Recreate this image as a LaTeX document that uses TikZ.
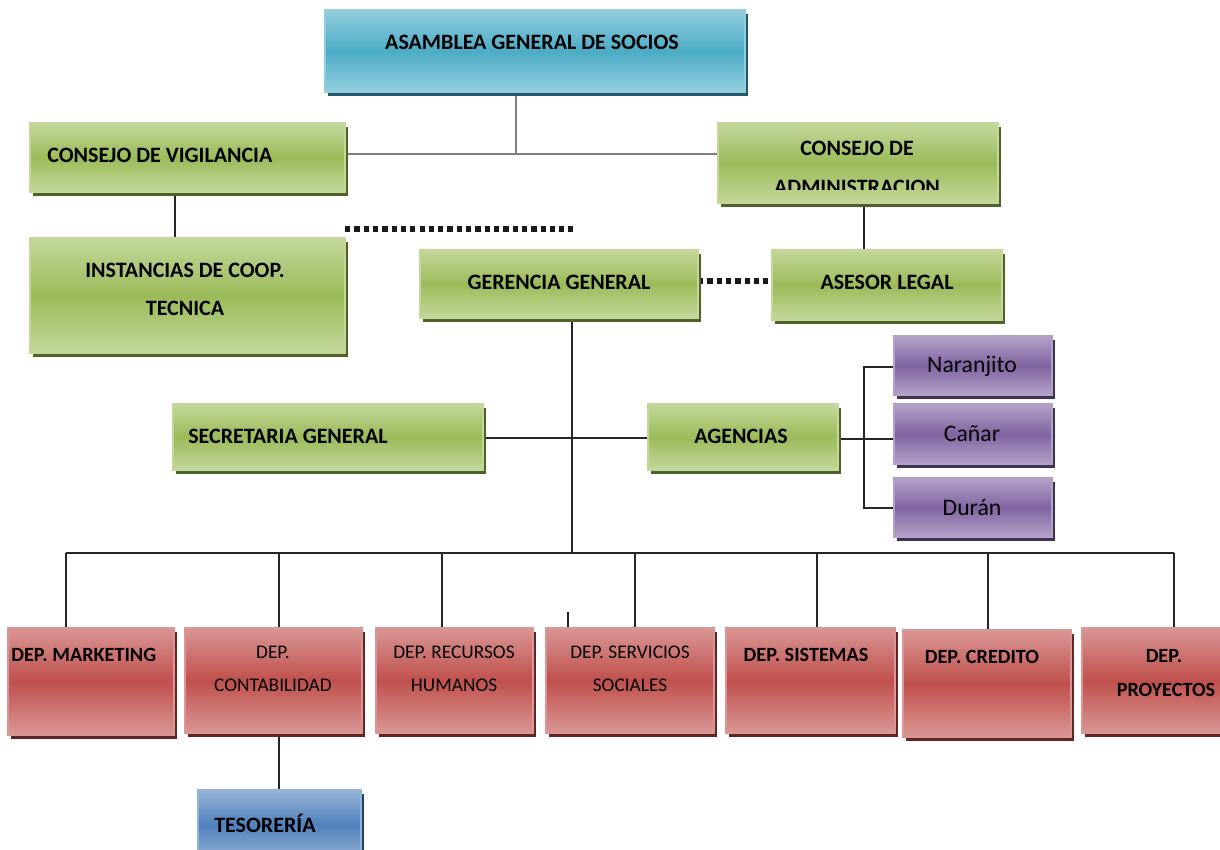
\documentclass[tikz,border=0pt]{standalone}
\usepackage{fontspec}
\setmainfont{Carlito}
\definecolor{gtop}{HTML}{C4D79B}\definecolor{gmid}{HTML}{9BBB59}\definecolor{gsh}{HTML}{4F6228}
\definecolor{btop}{HTML}{93CDDD}\definecolor{bmid}{HTML}{4BACC6}\definecolor{bsh}{HTML}{215968}
\definecolor{rtop}{HTML}{D99694}\definecolor{rmid}{HTML}{C0504D}\definecolor{rsh}{HTML}{632523}
\definecolor{ptop}{HTML}{B3A2C7}\definecolor{pmid}{HTML}{8064A2}\definecolor{psh}{HTML}{3F3151}
\definecolor{ttop}{HTML}{95B3D7}\definecolor{tmid}{HTML}{4F81BD}\definecolor{tsh}{HTML}{244062}
\definecolor{lgray}{HTML}{7F7F7F}
\newcommand\orgbox[8]{%
  \fill[#8] ({#2+3},{#3+4}) rectangle ({#4+3},{#5+4});
  \node[inner sep=0pt, outer sep=0pt, draw=#6, line width=0.8pt,
        top color=#6, bottom color=#6, middle color=#7,
        minimum width={(#4-#2)*0.02cm}, minimum height={(#5-#3)*0.02cm}]
        (#1) at ({(#2+#4)/2},{(#3+#5)/2}) {};}
\tikzset{
  bt/.style={font=\bfseries\fontsize{12.5}{12.5}\selectfont, inner sep=0pt},
  dt/.style={font=\bfseries\fontsize{11.5}{11.5}\selectfont, inner sep=0pt},
  rt/.style={font=\fontsize{11}{11}\selectfont, inner sep=0pt},
  agt/.style={font=\fontsize{13.5}{13.5}\selectfont, inner sep=0pt},
  link/.style={line width=0.9pt, draw=black!85},
  glink/.style={line width=1.4pt, draw=lgray},
  dots/.style={line width=3pt, dash pattern=on 3pt off 2.3pt, draw=black!90}
}
\begin{document}
\begin{tikzpicture}[x=0.02cm,y=-0.02cm]
\useasboundingbox (0,0) rectangle (1220,849);
\clip (0,0) rectangle (1220,849);
% junction coordinates
\coordinate (j1) at (516,154);
\coordinate (agx) at (864,439);
\coordinate (bus) at (572,553);
\coordinate (t1) at (66,628);\coordinate (t2) at (279,628);\coordinate (t3) at (442,628);
\coordinate (t4) at (635,628);\coordinate (t5) at (817,628);\coordinate (t6) at (988,630);
\coordinate (t7) at (1174,628);
\coordinate (s1) at (568,612);\coordinate (s2) at (568,627);

% connectors (drawn first)
\draw[glink] (516,92) coordinate (a1) -- (j1);
\draw[glink] (345,154) coordinate (cve) -- (718,154) coordinate (caw);
\draw[link] (175,192) coordinate (v1) -- (175,238) coordinate (v2);
\draw[link] (864,203) coordinate (w1) -- (864,250) coordinate (w2);
\draw[link] (572,318) coordinate (g1) -- (bus);
\draw[link] (483,438) coordinate (se) -- (648,438) coordinate (aw);
\draw[link] (838,439) coordinate (ae) -- (agx) -- (894,439) coordinate (n2);
\draw[link] (894,367) coordinate (n1) -| (864,508) -- (894,508) coordinate (n3);
\draw[link] (66,553) coordinate (b1) -- (1174,553) coordinate (b2);
\foreach \t in {t1,t2,t3,t4,t5,t6,t7}{\draw[link] (\t |- bus) -- (\t);}
\draw[link] (s1) -- (s2);
\draw[link] (279,735) coordinate (c1) -- (279,790) coordinate (c2);
\draw[dots] (345,229) coordinate (d1) -- (573,229) coordinate (d2);
\draw[dots] (698,281) coordinate (d3) -- (772,281) coordinate (d4);

% boxes
\orgbox{asam}{325}{10}{745}{92}{btop}{bmid}{bsh}
\orgbox{cv}{30}{123}{345}{192}{gtop}{gmid}{gsh}
\orgbox{ca}{718}{123}{998}{203}{gtop}{gmid}{gsh}
\orgbox{inst}{30}{238}{345}{353}{gtop}{gmid}{gsh}
\orgbox{ger}{420}{250}{698}{318}{gtop}{gmid}{gsh}
\orgbox{ase}{772}{250}{1002}{320}{gtop}{gmid}{gsh}
\orgbox{secr}{173}{404}{483}{470}{gtop}{gmid}{gsh}
\orgbox{agen}{648}{404}{838}{470}{gtop}{gmid}{gsh}
\orgbox{nar}{894}{336}{1052}{395}{ptop}{pmid}{psh}
\orgbox{can}{894}{404}{1052}{464}{ptop}{pmid}{psh}
\orgbox{dur}{894}{478}{1052}{537}{ptop}{pmid}{psh}
\orgbox{mkt}{8}{628}{174}{735}{rtop}{rmid}{rsh}
\orgbox{cont}{185}{628}{362}{733}{rtop}{rmid}{rsh}
\orgbox{rrhh}{376}{628}{533}{733}{rtop}{rmid}{rsh}
\orgbox{serv}{546}{628}{714}{733}{rtop}{rmid}{rsh}
\orgbox{sis}{726}{628}{895}{733}{rtop}{rmid}{rsh}
\orgbox{cred}{903}{630}{1071}{737}{rtop}{rmid}{rsh}
\orgbox{proy}{1082}{628}{1262}{733}{rtop}{rmid}{rsh}
\orgbox{teso}{198}{790}{361}{860}{ttop}{tmid}{tsh}

% texts
\node[bt] (l1) at (532,42) {ASAMBLEA GENERAL DE SOCIOS};
\node[bt, anchor=west] (l2) at (47,155) {CONSEJO DE VIGILANCIA};
\node[bt] (l3) at (857,148) {CONSEJO DE};
\begin{scope}
\clip (720,170) rectangle (996,189);
\node[bt] (l4) at (857,187) {ADMINISTRACION};
\end{scope}
\node[bt] (l5) at (185,270) {INSTANCIAS DE COOP.};
\node[bt] (l6) at (185,308) {TECNICA};
\node[bt] (l7) at (559,282) {GERENCIA GENERAL};
\node[bt] (l8) at (887,282) {ASESOR LEGAL};
\node[bt, anchor=west] (l9) at (188,436) {SECRETARIA GENERAL};
\node[bt] (l10) at (741,436) {AGENCIAS};
\node[agt] (l11) at (972,366) {Naranjito};
\node[agt] (l12) at (972,434) {Cañar};
\node[agt] (l13) at (972,507) {Durán};
\node[dt, anchor=west] (l14) at (11,655) {DEP. MARKETING};
\node[rt] (l15) at (273,652) {DEP.};
\node[rt] (l16) at (273,685) {CONTABILIDAD};
\node[rt] (l17) at (454,652) {DEP. RECURSOS};
\node[rt] (l18) at (454,685) {HUMANOS};
\node[rt] (l19) at (630,652) {DEP. SERVICIOS};
\node[rt] (l20) at (630,685) {SOCIALES};
\node[dt] (l21) at (806,655) {DEP. SISTEMAS};
\node[dt] (l22) at (982,657) {DEP. CREDITO};
\node[dt] (l23) at (1164,656) {DEP.};
\node[dt] (l24) at (1166,690) {PROYECTOS};
\node[bt, anchor=west] (l25) at (214,823) {TESORERÍA};
\end{tikzpicture}
\end{document}
